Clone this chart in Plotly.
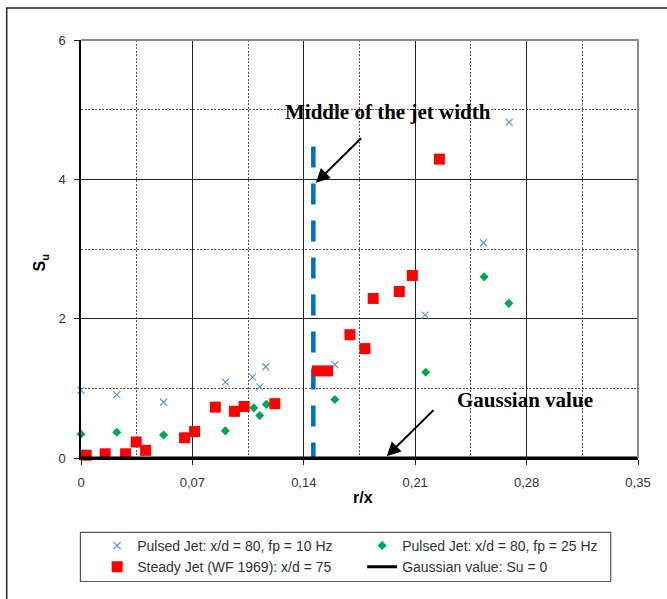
import plotly.graph_objects as go

# Skewness profiles S_u versus radial coordinate r/x
pulsed10_r = [0.000, 0.0225, 0.0519, 0.0907, 0.1077, 0.1123, 0.1161, 0.1595, 0.2162, 0.2529, 0.2690]
pulsed10_su = [0.97, 0.91, 0.80, 1.09, 1.16, 1.02, 1.31, 1.34, 2.05, 3.09, 4.82]

pulsed25_r = [0.000, 0.0225, 0.0519, 0.0907, 0.1086, 0.1123, 0.1165, 0.1595, 0.2166, 0.2533, 0.2688]
pulsed25_su = [0.34, 0.37, 0.33, 0.39, 0.72, 0.61, 0.77, 0.84, 1.23, 2.60, 2.22]

steady_r = [0.0033, 0.0152, 0.0280, 0.0347, 0.0406, 0.0651, 0.0714, 0.0844, 0.0964, 0.1025,
            0.1218, 0.1486, 0.1549, 0.1690, 0.1784, 0.1836, 0.2000, 0.2082, 0.2252]
steady_su = [0.04, 0.06, 0.06, 0.23, 0.11, 0.29, 0.38, 0.73, 0.67, 0.74,
             0.78, 1.25, 1.25, 1.77, 1.57, 2.29, 2.39, 2.62, 4.29]

gauss_r = [0.0, 0.35]
gauss_su = [0.0, 0.0]

jet_mid_r = [0.146, 0.146]
jet_mid_su = [4.47, 0.0]

x_ticks = [0, 0.07, 0.14, 0.21, 0.28, 0.35]
x_ticktext = ["0", "0,07", "0,14", "0,21", "0,28", "0,35"]
x_minor = [0.035, 0.105, 0.175, 0.245, 0.315]
y_ticks = [0, 2, 4, 6]
y_minor = [1, 3, 5]

names = [
    "Pulsed Jet: x/d = 80, fp = 10 Hz",
    "Pulsed Jet: x/d = 80, fp = 25 Hz",
    "Steady Jet (WF 1969): x/d = 75",
    "Gaussian value: Su = 0",
]

SANS = "Liberation Sans, Arial, sans-serif"
SERIF = "Liberation Serif, Times New Roman, serif"

fig = go.Figure()

fig.add_trace(go.Scatter(
    x=jet_mid_r, y=jet_mid_su, mode="lines", showlegend=False,
    line=dict(color="#0070c0", width=4.5, dash="21px,16px"),
))
fig.add_trace(go.Scatter(
    x=pulsed10_r, y=pulsed10_su, mode="markers", name=names[0], cliponaxis=False,
    marker=dict(symbol="x-thin", size=7, color="#5b9bd5",
                line=dict(width=1.2, color="#5b9bd5")),
))
fig.add_trace(go.Scatter(
    x=pulsed25_r, y=pulsed25_su, mode="markers", name=names[1], cliponaxis=False,
    marker=dict(symbol="diamond", size=7, color="#00a650"),
))
fig.add_trace(go.Scatter(
    x=steady_r, y=steady_su, mode="markers", name=names[2], cliponaxis=False,
    marker=dict(symbol="square", size=11, color="#ff0000"),
))
fig.add_trace(go.Scatter(
    x=gauss_r, y=gauss_su, mode="lines", name=names[3], cliponaxis=False,
    line=dict(color="black", width=3),
))

axis_font = dict(family=SANS, size=13, color="#333333")

fig.update_xaxes(
    range=[0, 0.35], tickvals=x_ticks, ticktext=x_ticktext,
    showgrid=True, gridcolor="#222222", gridwidth=1,
    minor=dict(tickvals=x_minor, showgrid=True, gridcolor="#555555",
               griddash="2px,1.5px", gridwidth=1),
    ticks="outside", ticklen=5, tickcolor="#222222",
    showline=True, linecolor="black", linewidth=2,
    zeroline=False, tickfont=axis_font, ticklabelstandoff=6,
)
fig.update_yaxes(
    range=[0, 6], tickvals=y_ticks, ticktext=[str(v) for v in y_ticks],
    showgrid=True, gridcolor="#222222", gridwidth=1,
    minor=dict(tickvals=y_minor, showgrid=True, gridcolor="#555555",
               griddash="2px,1.5px", gridwidth=1),
    ticks="outside", ticklen=5, tickcolor="#222222",
    showline=True, linecolor="black", linewidth=1.5,
    zeroline=False, tickfont=axis_font, ticklabelstandoff=6,
)

shapes = [
    # outer chart frame
    dict(type="rect", xref="paper", yref="paper", x0=-0.1334, x1=1.3, y0=-0.6, y1=1.0767,
         line=dict(color="#222222", width=1.5), layer="below"),
    # top and right plot border
    dict(type="path", xref="paper", yref="paper", path="M 0,1 L 1,1 L 1,0",
         line=dict(color="#8a8a8a", width=2), layer="above"),
    # legend box
    dict(type="rect", xref="paper", yref="paper", x0=-0.001, x1=0.951, y0=-0.2954, y1=-0.178,
         line=dict(color="#555555", width=1.2), layer="below"),
]

annotations = [
    dict(x=0.1931, y=4.97, xref="x", yref="y", text="<b>Middle of the jet width</b>",
         xanchor="center", yanchor="middle",
         showarrow=False, font=dict(family=SERIF, size=21, color="black")),
    dict(x=0.1476, y=3.95, xref="x", yref="y", text="", showarrow=True,
         ax=46.7, ay=-46, arrowhead=2, arrowsize=1.4, arrowwidth=2, arrowcolor="black"),
    dict(x=0.2791, y=0.83, xref="x", yref="y", text="<b>Gaussian value</b>",
         xanchor="center", yanchor="middle",
         showarrow=False, font=dict(family=SERIF, size=21, color="black")),
    dict(x=0.1921, y=0.024, xref="x", yref="y", text="", showarrow=True,
         ax=48.3, ay=-47.7, arrowhead=2, arrowsize=1.4, arrowwidth=2, arrowcolor="black"),
    dict(x=-0.071, y=0.469, xref="paper", yref="paper", text="<b>S<sub>u</sub></b>",
         xanchor="center", yanchor="middle",
         textangle=-90, showarrow=False, font=dict(family=SANS, size=16, color="black")),
    dict(x=0.5066, y=-0.0938, xref="paper", yref="paper", text="<b>r/x</b>",
         xanchor="center", yanchor="middle",
         showarrow=False, font=dict(family=SANS, size=16, color="black")),
]

fig.update_layout(
    width=667, height=599,
    margin=dict(l=81, r=29, t=40, b=141),
    paper_bgcolor="white", plot_bgcolor="white",
    shapes=shapes, annotations=annotations,
    legend=dict(
        orientation="h", x=0.029, y=-0.172, xanchor="left", yanchor="top",
        entrywidth=220, entrywidthmode="pixels",
        font=dict(family=SANS, size=14, color="#333333"),
        bgcolor="rgba(0,0,0,0)", borderwidth=0, traceorder="normal",
    ),
)

fig.write_html("out.html")
